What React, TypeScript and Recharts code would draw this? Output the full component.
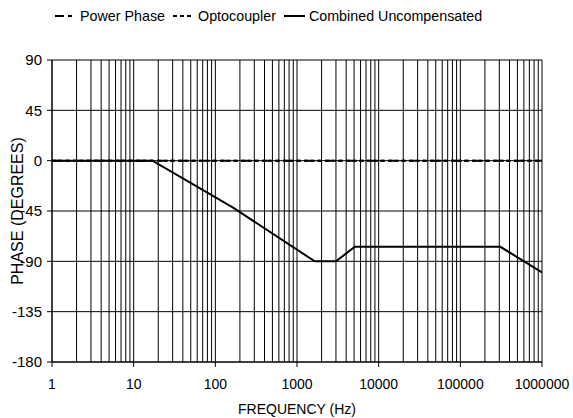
import React from 'react';
import {
  LineChart, Line, XAxis, YAxis, CartesianGrid, Legend, ReferenceLine, Label
} from 'recharts';

const FREQ_TICKS = [1, 10, 100, 1000, 10000, 100000, 1000000];
const PHASE_TICKS = [-180, -135, -90, -45, 0, 45, 90];

const POWER_FREQ = [1, 1000000];
const POWER_PHASE = [0, 0];

const OPTO_FREQ = [1, 1000000];
const OPTO_PHASE = [0, 0];

const COMBINED_FREQ = [1, 17, 165, 1650, 3000, 5100, 310000, 1000000];
const COMBINED_PHASE = [0, 0, -42, -90, -90, -77, -77, -100];

const SERIES = [
  { name: 'Power Phase', dash: '9 4 4 4' },
  { name: 'Optocoupler', dash: '4 3' },
  { name: 'Combined Uncompensated', dash: undefined },
];

const toRows = (fs: number[], ps: number[]) => fs.map((f, i) => ({ f, p: ps[i] }));

const powerData = toRows(POWER_FREQ, POWER_PHASE);
const optoData = toRows(OPTO_FREQ, OPTO_PHASE);
const combinedData = toRows(COMBINED_FREQ, COMBINED_PHASE);

// minor grid lines 2..9 of each decade
const MINOR: number[] = [];
FREQ_TICKS.slice(0, -1).forEach(d => {
  for (let k = 2; k <= 9; k++) MINOR.push(d * k);
});

const FONT = 'Liberation Sans, Arial, sans-serif';

function LegendContent() {
  return (
    <div style={{ display: 'flex', alignItems: 'center', fontFamily: FONT, fontSize: 14.3, color: '#000', whiteSpace: 'nowrap' }}>
      {SERIES.map(s => (
        <span key={s.name} style={{ display: 'flex', alignItems: 'center', marginRight: 8 }}>
          <svg width={21} height={10} style={{ marginRight: 4 }}>
            <line x1={0} y1={5} x2={21} y2={5} stroke="#000" strokeWidth={2} strokeDasharray={s.dash} />
          </svg>
          {s.name}
        </span>
      ))}
    </div>
  );
}

export default function App() {
  return (
    <div style={{ position: 'absolute', left: 0, top: 0, background: '#fff' }}>
      <LineChart width={573} height={418} margin={{ top: 44, right: 31, bottom: 0, left: 0 }}>
        <CartesianGrid stroke="#000" strokeWidth={1} />
        {MINOR.map(v => (
          <ReferenceLine key={v} x={v} stroke="#000" strokeWidth={1} ifOverflow="hidden" />
        ))}
        <XAxis
          dataKey="f"
          type="number"
          scale="log"
          domain={[1, 1000000]}
          ticks={FREQ_TICKS}
          allowDataOverflow
          height={56}
          stroke="#000"
          tickSize={5}
          tickMargin={12}
          tick={{ fill: '#000', fontSize: 14, fontFamily: FONT }}
        >
          <Label value="FREQUENCY (Hz)" position="insideBottom" offset={4} style={{ fill: '#000', fontSize: 14, fontFamily: FONT }} />
        </XAxis>
        <YAxis
          type="number"
          domain={[-180, 90]}
          ticks={PHASE_TICKS}
          width={52}
          stroke="#000"
          tickSize={5}
          tickMargin={5}
          tick={{ fill: '#000', fontSize: 15, fontFamily: FONT }}
        >
          <Label value="PHASE (DEGREES)" angle={-90} position="insideLeft" offset={17} style={{ textAnchor: 'middle', fill: '#000', fontSize: 16, fontFamily: FONT }} />
        </YAxis>
        <Legend
          layout="vertical"
          align="center"
          verticalAlign="top"
          wrapperStyle={{ top: 8, left: 55, width: 'auto' }}
          content={<LegendContent />}
        />
        <Line data={optoData} dataKey="p" name="Optocoupler" stroke="#000" strokeWidth={2} strokeDasharray="4 3" dot={false} isAnimationActive={false} />
        <Line data={powerData} dataKey="p" name="Power Phase" stroke="#000" strokeWidth={2} strokeDasharray="9 4 4 4" dot={false} isAnimationActive={false} />
        <Line data={combinedData} dataKey="p" name="Combined Uncompensated" stroke="#000" strokeWidth={2} dot={false} isAnimationActive={false} />
      </LineChart>
    </div>
  );
}
